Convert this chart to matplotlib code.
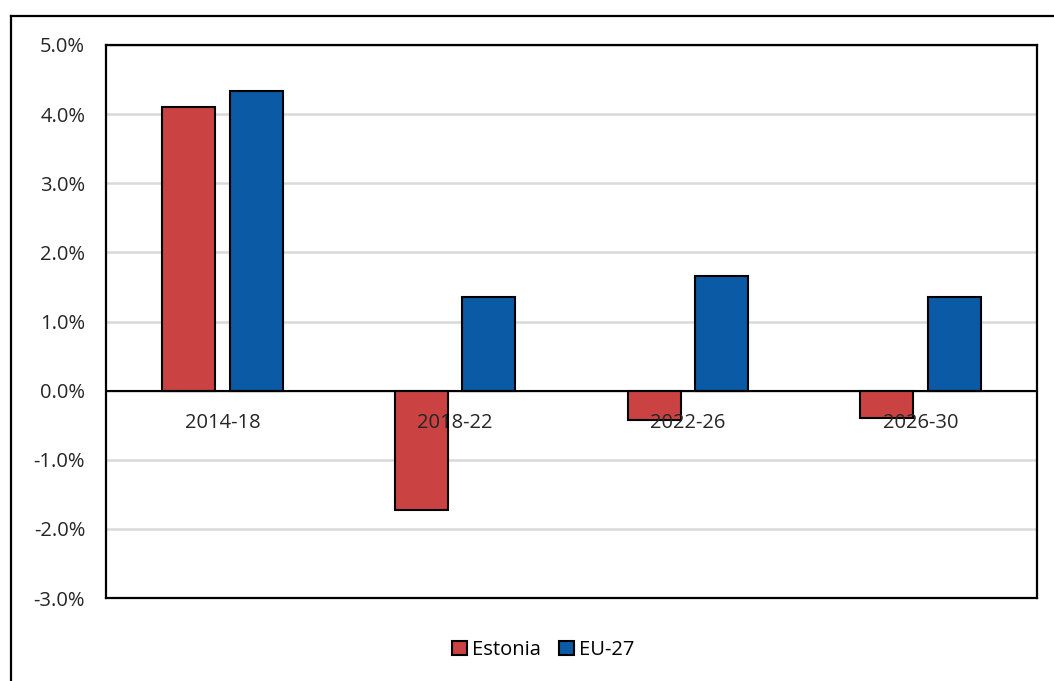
import numpy as np
import matplotlib.pyplot as plt
from matplotlib.lines import Line2D
from matplotlib.ticker import FuncFormatter

periods = ['2014-18', '2018-22', '2022-26', '2026-30']
estonia = [4.11, -1.72, -0.43, -0.39]
eu27 = [4.34, 1.35, 1.66, 1.35]

red = '#CB4242'
blue = '#0B5AA6'

plt.rcParams['font.family'] = ['Open Sans', 'DejaVu Sans']
fs = 14.5

fig = plt.figure(figsize=(10.54, 6.81), dpi=100)
ax = fig.add_axes([106 / 1054, 83 / 681, 931 / 1054, 553 / 681])

x = np.arange(len(periods))
w = 0.228
off = 0.145
ax.bar(x - off, estonia, w, color=red, edgecolor='black', linewidth=1.5, label='Estonia', zorder=3)
ax.bar(x + off, eu27, w, color=blue, edgecolor='black', linewidth=1.5, label='EU-27', zorder=3)

ax.set_xlim(-0.5, len(periods) - 0.5)
ax.set_ylim(-3, 5)
ax.set_yticks(np.arange(-3, 6, 1))
ax.yaxis.set_major_formatter(FuncFormatter(lambda v, p: f'{v:.1f}%'))
ax.tick_params(axis='y', length=0, pad=15, labelsize=fs, colors='#262626')
ax.set_xticks([])

ax.grid(axis='y', color='#D9D9D9', linewidth=1.8, zorder=0)
ax.axhline(0, color='black', linewidth=1.5, zorder=4)
for s in ax.spines.values():
    s.set_linewidth(1.6)
    s.set_color('black')

# category labels sit just under the zero line
for i, p in enumerate(periods):
    ax.annotate(p, (i, 0), xytext=(0, -23), textcoords='offset points',
                ha='center', va='center', fontsize=fs, color='#262626', zorder=5)

fig.legend(loc='center', bbox_to_anchor=(543 / 1054, 1 - 650 / 681), ncol=2, frameon=False,
           fontsize=fs, handlelength=0.75, handleheight=0.75, handletextpad=0.25,
           columnspacing=0.9)

# outer frame around the chart
fig.add_artist(Line2D([11 / 1054, 1.0], [1 - 16 / 681] * 2, color='black', linewidth=1.6))
fig.add_artist(Line2D([11 / 1054] * 2, [0.0, 1 - 16 / 681], color='black', linewidth=1.6))

fig.savefig('out.png', dpi=100)
